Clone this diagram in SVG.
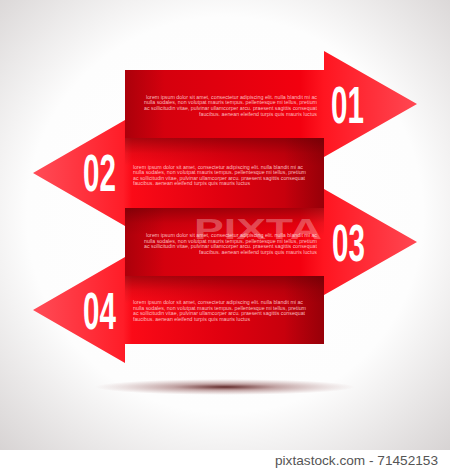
<svg xmlns="http://www.w3.org/2000/svg" width="450" height="469" viewBox="0 0 450 469">
  <defs>
    <radialGradient id="bg" cx="225" cy="215" r="330" gradientUnits="userSpaceOnUse">
      <stop offset="0" stop-color="#ffffff"/>
      <stop offset="0.6" stop-color="#fdfdfd"/>
      <stop offset="1" stop-color="#d6d2d2"/>
    </radialGradient>
    <radialGradient id="floor" cx="0.5" cy="0.5" r="0.5">
      <stop offset="0" stop-color="#5a2020" stop-opacity="0.95"/>
      <stop offset="0.4" stop-color="#7a3838" stop-opacity="0.45"/>
      <stop offset="1" stop-color="#9a6060" stop-opacity="0"/>
    </radialGradient>
    <linearGradient id="gR" gradientUnits="userSpaceOnUse" x1="125" y1="0" x2="417" y2="0">
      <stop offset="0" stop-color="#cc000d"/>
      <stop offset="0.6" stop-color="#f3000f"/>
      <stop offset="0.68" stop-color="#ff1520"/>
      <stop offset="1" stop-color="#ff4752"/>
    </linearGradient>
    <linearGradient id="gL" gradientUnits="userSpaceOnUse" x1="324" y1="0" x2="33" y2="0">
      <stop offset="0" stop-color="#b8000b"/>
      <stop offset="0.35" stop-color="#e0000f"/>
      <stop offset="0.66" stop-color="#fb0a17"/>
      <stop offset="0.69" stop-color="#ff1d28"/>
      <stop offset="1" stop-color="#ff4c57"/>
    </linearGradient>
    <linearGradient id="topShade" x1="0" y1="0" x2="0" y2="1">
      <stop offset="0" stop-color="#5a0004" stop-opacity="0.5"/>
      <stop offset="0.22" stop-color="#5a0004" stop-opacity="0.12"/>
      <stop offset="0.4" stop-color="#5a0004" stop-opacity="0"/>
    </linearGradient>
    <linearGradient id="rightShade" x1="0" y1="0" x2="1" y2="0">
      <stop offset="0.8" stop-color="#4a0003" stop-opacity="0"/>
      <stop offset="1" stop-color="#4a0003" stop-opacity="0.3"/>
    </linearGradient>
    <linearGradient id="leftShade" x1="0" y1="0" x2="1" y2="0">
      <stop offset="0" stop-color="#4a0003" stop-opacity="0.25"/>
      <stop offset="0.2" stop-color="#4a0003" stop-opacity="0"/>
    </linearGradient>
  </defs>
  <style>
    .body { font-family: "Liberation Sans", Arial, sans-serif; font-size: 4.85px; fill: #ffd0d2; fill-opacity: 0.9; }
    .end { text-anchor: end; }
    .num { font-family: "Liberation Sans", Arial, sans-serif; font-weight: bold; font-size: 51px; fill: #ffffff; }
    .cap { font-family: "Liberation Sans", Arial, sans-serif; font-size: 13px; fill: #555555; }
    .wm { font-family: "Liberation Sans", Arial, sans-serif; font-weight: bold; font-size: 30px; fill: #ffffff; fill-opacity: 0.3; }
  </style>

  <rect x="0" y="0" width="450" height="469" fill="#ffffff"/>
  <rect x="0" y="0" width="450" height="450" fill="url(#bg)"/>
  <ellipse cx="225" cy="387" rx="130" ry="8" fill="url(#floor)"/>

  <g id="strip-01">
    <path d="M125,70 H324 V51 L417,104 L324,157 V138 H125 Z" fill="url(#gR)"/>
    <rect x="125" y="70" width="199" height="68" fill="url(#leftShade)"/>
    <text class="body end" x="317" y="98.6" textLength="171" lengthAdjust="spacingAndGlyphs">lorem ipsum dolor sit amet, consectetur adipiscing elit. nulla blandit mi ac</text>
    <text class="body end" x="317" y="104.3" textLength="173" lengthAdjust="spacingAndGlyphs">nulla sodales, non volutpat mauris tempus. pellentesque mi tellus, pretium</text>
    <text class="body end" x="317" y="110" textLength="173" lengthAdjust="spacingAndGlyphs">ac sollicitudin vitae, pulvinar ullamcorper arcu. praesent sagittis consequat</text>
    <text class="body end" x="317" y="115.6" textLength="118" lengthAdjust="spacingAndGlyphs">faucibus. aenean eleifend turpis quis mauris luctus</text>
    <text class="num" transform="translate(331,123) scale(0.58,1)">01</text>
  </g>

  <g id="strip-02">
    <path d="M324,138 H125 V120 L33,173 L125,226 V208 H324 Z" fill="url(#gL)"/>
    <rect x="125" y="138" width="199" height="70" fill="url(#topShade)"/>
    <rect x="125" y="138" width="199" height="70" fill="url(#rightShade)"/>
    <text class="body" x="133" y="168.5" textLength="170" lengthAdjust="spacingAndGlyphs">lorem ipsum dolor sit amet, consectetur adipiscing elit. nulla blandit mi ac</text>
    <text class="body" x="133" y="174.2" textLength="173" lengthAdjust="spacingAndGlyphs">nulla sodales, non volutpat mauris tempus. pellentesque mi tellus, pretium</text>
    <text class="body" x="133" y="179.8" textLength="172" lengthAdjust="spacingAndGlyphs">ac sollicitudin vitae, pulvinar ullamcorper arcu. praesent sagittis consequat</text>
    <text class="body" x="133" y="185.4" textLength="117" lengthAdjust="spacingAndGlyphs">faucibus. aenean eleifend turpis quis mauris luctus</text>
    <text class="num" transform="translate(83,191) scale(0.58,1)">02</text>
  </g>

  <g id="strip-03">
    <path d="M125,208 H324 V189 L417,242 L324,295 V276 H125 Z" fill="url(#gR)"/>
    <rect x="125" y="208" width="199" height="68" fill="url(#topShade)"/>
    <rect x="125" y="208" width="199" height="68" fill="url(#leftShade)"/>
    <text class="body end" x="317" y="237" textLength="171" lengthAdjust="spacingAndGlyphs">lorem ipsum dolor sit amet, consectetur adipiscing elit. nulla blandit mi ac</text>
    <text class="body end" x="317" y="242.6" textLength="173" lengthAdjust="spacingAndGlyphs">nulla sodales, non volutpat mauris tempus. pellentesque mi tellus, pretium</text>
    <text class="body end" x="317" y="248.2" textLength="173" lengthAdjust="spacingAndGlyphs">ac sollicitudin vitae, pulvinar ullamcorper arcu. praesent sagittis consequat</text>
    <text class="body end" x="317" y="254" textLength="118" lengthAdjust="spacingAndGlyphs">faucibus. aenean eleifend turpis quis mauris luctus</text>
    <text class="num" transform="translate(332,261) scale(0.58,1)">03</text>
  </g>

  <g id="strip-04">
    <path d="M324,276 H125 V257 L33,310 L125,363 V344 H324 Z" fill="url(#gL)"/>
    <rect x="125" y="276" width="199" height="68" fill="url(#topShade)"/>
    <rect x="125" y="276" width="199" height="68" fill="url(#rightShade)"/>
    <text class="body" x="133" y="304.2" textLength="170" lengthAdjust="spacingAndGlyphs">lorem ipsum dolor sit amet, consectetur adipiscing elit. nulla blandit mi ac</text>
    <text class="body" x="133" y="309.8" textLength="173" lengthAdjust="spacingAndGlyphs">nulla sodales, non volutpat mauris tempus. pellentesque mi tellus, pretium</text>
    <text class="body" x="133" y="315.4" textLength="172" lengthAdjust="spacingAndGlyphs">ac sollicitudin vitae, pulvinar ullamcorper arcu. praesent sagittis consequat</text>
    <text class="body" x="133" y="321" textLength="117" lengthAdjust="spacingAndGlyphs">faucibus. aenean eleifend turpis quis mauris luctus</text>
    <text class="num" transform="translate(83,328.5) scale(0.58,1)">04</text>
  </g>

  <text class="wm" x="194" y="239" textLength="128" lengthAdjust="spacingAndGlyphs">PIXTA</text>
  <text class="cap" x="438" y="465" text-anchor="end" textLength="163" lengthAdjust="spacingAndGlyphs">pixtastock.com - 71452153</text>
</svg>
